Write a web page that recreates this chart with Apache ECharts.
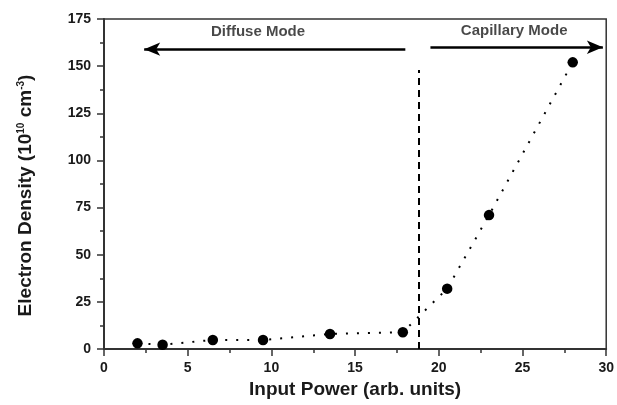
<!DOCTYPE html>
<html>
<head>
<meta charset="utf-8">
<script src="https://cdn.jsdelivr.net/npm/echarts@6/dist/echarts.min.js"></script>
<style>
  html, body { margin: 0; padding: 0; background: #fff; }
  #chart { width: 617px; height: 405px; }
</style>
</head>
<body>
<div id="chart"></div>
<script>
// measured points
const power = [2, 3.5, 6.5, 9.5, 13.5, 17.85, 20.5, 23, 28];
const density = [3, 2.3, 4.8, 4.8, 8, 8.9, 32, 71, 152];

// annotations (data coords)
const boundaryX = 18.8;
const boundaryTop = 148;
const diffuseArrow = [[18, 159], [2.4, 159]];
const capillaryArrow = [[19.5, 160], [29.8, 160]];
const modeLabels = [
  { name: 'Diffuse Mode', value: [9.2, 168] },
  { name: 'Capillary Mode', value: [24.5, 168.5] }
];

const font = 'Liberation Sans, Arial, sans-serif';
const ink = '#1a1a1a';

const chart = echarts.init(document.getElementById('chart'));

const option = {
  animation: false,
  grid: {
    left: 104, right: 8, top: 19, bottom: 56,
    show: true, borderColor: '#333', borderWidth: 1.5
  },
  xAxis: {
    type: 'value',
    min: 0, max: 30, interval: 5,
    name: 'Input Power (arb. units)',
    nameLocation: 'middle',
    nameGap: 30,
    nameTextStyle: { fontFamily: font, fontWeight: 'bold', fontSize: 19, color: ink },
    axisLine: { lineStyle: { color: '#333', width: 2 } },
    axisTick: { length: 7, lineStyle: { color: '#333', width: 1.5 } },
    minorTick: { show: true, splitNumber: 2, length: 4, lineStyle: { color: '#333', width: 1.5 } },
    splitLine: { show: false },
    axisLabel: { margin: 12, fontFamily: font, fontWeight: 'bold', fontSize: 14, color: ink }
  },
  yAxis: {
    type: 'value',
    min: 0, max: 175, interval: 25,
    name: '{t|Electron Density (10}{s|10}{t| cm}{s|-3}{t|)}',
    nameLocation: 'middle',
    nameRotate: 90,
    nameGap: 68,
    nameTextStyle: {
      padding: [0, 23, 0, 0],
      rich: {
        t: { fontFamily: font, fontWeight: 'bold', fontSize: 19, color: ink },
        s: { fontFamily: font, fontWeight: 'bold', fontSize: 10, color: ink, padding: [0, 0, 10, 0] }
      }
    },
    axisLine: { show: true, lineStyle: { color: '#333', width: 2 } },
    axisTick: { show: true, length: 7, lineStyle: { color: '#333', width: 1.5 } },
    minorTick: { show: true, splitNumber: 2, length: 4, lineStyle: { color: '#333', width: 1.5 } },
    splitLine: { show: false },
    axisLabel: { margin: 13, fontFamily: font, fontWeight: 'bold', fontSize: 14, color: ink }
  },
  series: [
    {
      type: 'line',
      data: power.map((x, i) => [x, density[i]]),
      symbol: 'circle',
      symbolSize: 10.5,
      itemStyle: { color: '#000' },
      lineStyle: { color: '#000', width: 2, type: [2, 9] },
      z: 5,
      markLine: {
        silent: true,
        animation: false,
        label: { show: false },
        data: [
          [
            { coord: [boundaryX, 0], symbol: 'none' },
            { coord: [boundaryX, boundaryTop], symbol: 'none', lineStyle: { type: [7, 5], width: 2, color: '#000' } }
          ],
          [
            { coord: diffuseArrow[0], symbol: 'none' },
            { coord: diffuseArrow[1], symbol: 'arrow', symbolSize: [10, 16], lineStyle: { type: 'solid', width: 2.5, color: '#000' } }
          ],
          [
            { coord: capillaryArrow[0], symbol: 'none' },
            { coord: capillaryArrow[1], symbol: 'arrow', symbolSize: [10, 16], lineStyle: { type: 'solid', width: 2.5, color: '#000' } }
          ]
        ]
      }
    },
    {
      type: 'scatter',
      data: modeLabels,
      symbolSize: 0,
      silent: true,
      label: {
        show: true,
        position: 'inside',
        formatter: p => p.name,
        fontFamily: font, fontWeight: 'bold', fontSize: 15, color: ink
      }
    }
  ]
};

chart.setOption(option);
</script>
</body>
</html>
